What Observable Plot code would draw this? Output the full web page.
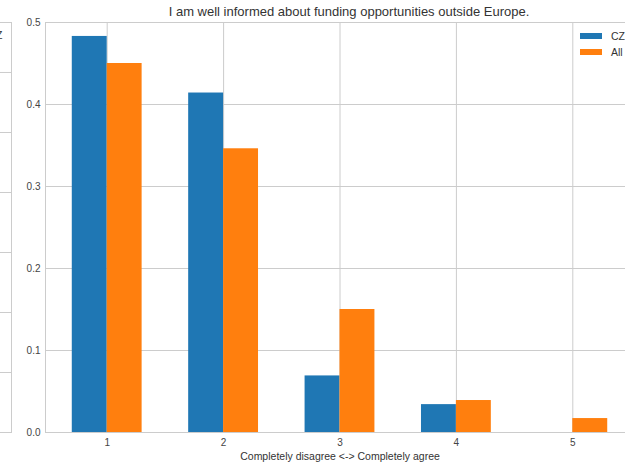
<!DOCTYPE html>
<html>
<head>
<meta charset="utf-8">
<script src="https://cdn.jsdelivr.net/npm/d3@7"></script>
<script src="https://cdn.jsdelivr.net/npm/@observablehq/plot@0.6"></script>
<style>
  html, body { margin: 0; padding: 0; background: #fff; }
  body { width: 625px; height: 464px; overflow: hidden; position: relative; font-family: "Liberation Sans", Arial, sans-serif; }
  #main, #side { position: absolute; left: 0; top: 0; }
  #side { left: -5px; z-index: 2; }
  #main svg, #side svg { background: transparent; }
  .legend { position: absolute; left: 580px; top: 28px; font-size: 10.5px; color: #333; z-index: 3; }
  .legend .item { display: flex; align-items: center; height: 16px; }
  .legend .sw { width: 22px; height: 6px; margin-right: 9px; }
</style>
</head>
<body>
<div id="side"></div>
<div id="main"></div>
<div class="legend" id="legend"></div>
<script>
const categories = [1, 2, 3, 4, 5];
const seriesNames = ["CZ", "All"];
const czValues = [0.483, 0.414, 0.069, 0.034, 0.0];
const allValues = [0.450, 0.346, 0.150, 0.039, 0.017];
const seriesColors = ["#1f77b4", "#ff7f0e"];
const yTicks = [0.0, 0.1, 0.2, 0.3, 0.4, 0.5];
const titleText = "I am well informed about funding opportunities outside Europe.";
const xLabel = "Completely disagree <-> Completely agree";
const barWidth = 0.3;
// partial neighbouring panel at the left edge (cut off)
const sideTicks = [0, 1, 2, 3, 4, 5, 6];

const rows = [];
categories.forEach((c, i) => {
  rows.push({cat: c, series: seriesNames[0], value: czValues[i], x1: c - barWidth, x2: c});
  rows.push({cat: c, series: seriesNames[1], value: allValues[i], x1: c, x2: c + barWidth});
});

const font = "Liberation Sans, Arial, sans-serif";

const chart = Plot.plot({
  width: 625,
  height: 464,
  marginLeft: 45,
  marginRight: -9,
  marginTop: 22,
  marginBottom: 32,
  style: {fontFamily: font, fontSize: "10px", color: "#444", background: "transparent"},
  x: {domain: [0.47, 5.53]},
  y: {domain: [0, 0.5]},
  color: {domain: seriesNames, range: seriesColors},
  marks: [
    Plot.gridX(categories, {stroke: "#cccccc", strokeOpacity: 1}),
    Plot.gridY(yTicks, {stroke: "#cccccc", strokeOpacity: 1}),
    Plot.frame({stroke: "#cccccc"}),
    Plot.rectY(rows, {x1: "x1", x2: "x2", y1: 0, y2: "value", fill: "series"}),
    Plot.axisX(categories, {tickSize: 0, tickPadding: 6, label: null, tickFormat: d => String(d), fontSize: 10}),
    Plot.axisY(yTicks, {tickSize: 0, tickPadding: 5, label: null, tickFormat: d3.format(".1f"), fontSize: 10}),
    Plot.text([xLabel], {frameAnchor: "bottom", lineAnchor: "middle", dy: 24, fontSize: 10.5, fill: "#333"}),
    Plot.text([titleText], {frameAnchor: "top", lineAnchor: "middle", dy: -11, dx: 9, fontSize: 13, fill: "#333"})
  ]
});
document.getElementById("main").append(chart);

const side = Plot.plot({
  width: 17,
  height: 464,
  marginLeft: 0,
  marginRight: 1,
  marginTop: 22,
  marginBottom: 32,
  style: {fontFamily: font, fontSize: "10px", background: "transparent"},
  x: {domain: [0, 1], axis: null},
  y: {domain: [0, 6.833], axis: null},
  marks: [
    Plot.gridY(sideTicks, {stroke: "#cccccc", strokeOpacity: 1}),
    Plot.frame({stroke: "#cccccc"}),
    Plot.text([seriesNames[0]], {frameAnchor: "top-right", lineAnchor: "middle", dx: -9, dy: 13, textAnchor: "end", fontSize: 10.5, fill: "#333"})
  ]
});
document.getElementById("side").append(side);

const legend = document.getElementById("legend");
seriesNames.forEach((name, i) => {
  const item = document.createElement("div");
  item.className = "item";
  const sw = document.createElement("span");
  sw.className = "sw";
  sw.style.background = seriesColors[i];
  const lab = document.createElement("span");
  lab.textContent = name;
  item.append(sw, lab);
  legend.append(item);
});
</script>
</body>
</html>
